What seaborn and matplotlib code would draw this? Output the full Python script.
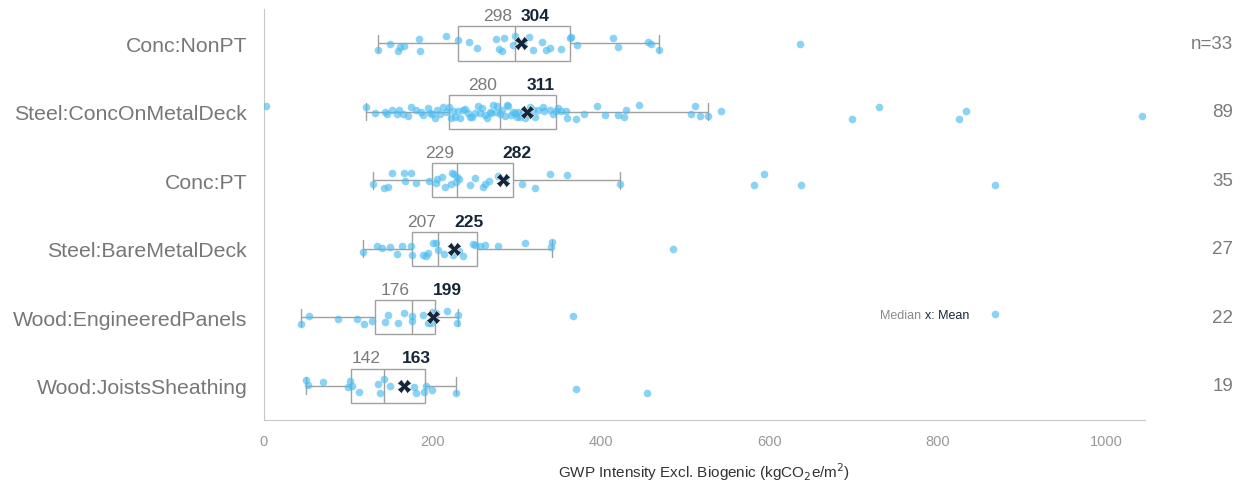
import numpy as np
import pandas as pd
import matplotlib.pyplot as plt
import seaborn as sns

categories = ["Conc:NonPT", "Steel:ConcOnMetalDeck", "Conc:PT",
              "Steel:BareMetalDeck", "Wood:EngineeredPanels", "Wood:JoistsSheathing"]

# GWP intensity values per system
conc_nonpt = [135, 150, 159, 161, 166, 184, 185, 216, 230, 243, 253, 276, 279, 283, 285,
              296, 298, 307, 315, 319, 330, 335, 339, 353, 363, 365, 372, 414, 420, 456,
              459, 469, 636]
steel_conc_deck = [2, 121, 132, 144, 146, 152, 158, 160, 165, 171, 175, 180, 186, 189, 195,
                   197, 200, 203, 205, 209, 213, 216, 220,
                   222, 225, 227, 230, 233, 236, 239, 242, 245, 247, 250, 254, 256, 259, 262,
                   265, 268, 270, 272, 275, 277, 280,
                   283, 286, 288, 290, 293, 296, 298, 300, 302, 304, 307, 310, 313, 316, 319,
                   322, 325, 331, 333, 339, 343, 347,
                   349, 353, 358, 360, 370, 380, 395, 405, 420, 428, 430, 445, 507, 512, 518,
                   527, 543, 698, 730, 825, 833, 1042]
conc_pt = [130, 142, 147, 152, 166, 168, 175, 180, 196, 204, 205, 211, 215, 222, 223, 226,
           228, 229, 231, 245, 250, 260, 263, 267, 278, 286, 306, 322, 340, 360, 423, 582,
           594, 638, 868]
steel_bare_deck = [118, 134, 140, 150, 158, 164, 175, 176, 189, 192, 195, 201, 204, 207, 214,
                   224, 232, 236, 248, 250, 256, 262, 278, 310, 341, 342, 486]
wood_panels = [44, 53, 88, 110, 119, 128, 144, 147, 159, 166, 176, 176, 189, 195, 198, 199,
               204, 217, 229, 230, 367, 868]
wood_joists = [50, 52, 70, 100, 102, 105, 113, 135, 138, 142, 150, 178, 180, 190, 192, 200,
               228, 371, 455]

median_labels = [298, 280, 229, 207, 176, 142]
mean_labels = [304, 311, 282, 225, 199, 163]
count_labels = ["n=33", "89", "35", "27", "22", "19"]

series = [conc_nonpt, steel_conc_deck, conc_pt, steel_bare_deck, wood_panels, wood_joists]
df = pd.DataFrame({
    "Category": np.repeat(categories, [len(s) for s in series]),
    "GWP": np.concatenate(series),
})

sns.set_style("white")
plt.rcParams["font.family"] = ["Liberation Sans", "DejaVu Sans"]
np.random.seed(4)

fig = plt.figure(figsize=(12.44, 4.85), dpi=100)
ax = fig.add_axes([0.2122, 0.132, 0.7082, 0.847])

line_col = "#a0a0a0"
mean_col = "#16263a"

sns.boxplot(data=df, x="GWP", y="Category", order=categories, ax=ax,
            width=0.5, showfliers=False, showmeans=True, color="white",
            linecolor=line_col, linewidth=1.0,
            boxprops=dict(zorder=1),
            meanprops=dict(marker="X", markerfacecolor=mean_col, markeredgecolor="white",
                           markeredgewidth=0.4, markersize=9.5, zorder=6))
sns.stripplot(data=df, x="GWP", y="Category", order=categories, ax=ax,
              color="#4cbcf0", alpha=0.65, size=5.5, jitter=0.11, linewidth=0, zorder=3)

for i, (med, mn) in enumerate(zip(median_labels, mean_labels)):
    ax.text(med - 3, i - 0.34, str(med), ha="right", va="baseline",
            fontsize=12.5, color="#7a7a7a")
    ax.text(mn + 1, i - 0.34, str(mn), ha="left", va="baseline",
            fontsize=12.5, color=mean_col, fontweight="bold")
    ax.text(1.1, i, count_labels[i], transform=ax.get_yaxis_transform(),
            ha="right", va="center", fontsize=13.5, color="#7a7a7a")

# small legend note
ax.text(731, 3.96, "Median", fontsize=9, color="#8a8a8a", va="center")
ax.text(785, 3.96, "x: Mean", fontsize=9, color=mean_col, va="center")

ax.set_xlim(0, 1046)
ax.set_ylim(5.5, -0.5)
ax.set_xticks([0, 200, 400, 600, 800, 1000])
ax.set_xlabel(r"GWP Intensity Excl. Biogenic (kgCO$_2$e/m$^2$)", fontsize=11,
              color="#333333", labelpad=9)
ax.set_ylabel("")
ax.tick_params(axis="y", labelsize=15.3, labelcolor="#777777", length=6,
               color="#bbbbbb", pad=6)
ax.tick_params(axis="x", labelsize=10.5, labelcolor="#999999", length=4,
               color="#dddddd", pad=6)
for side in ["top", "right"]:
    ax.spines[side].set_visible(False)
for side in ["left", "bottom"]:
    ax.spines[side].set_color("#c8c8c8")

fig.savefig("out.png", dpi=100)
